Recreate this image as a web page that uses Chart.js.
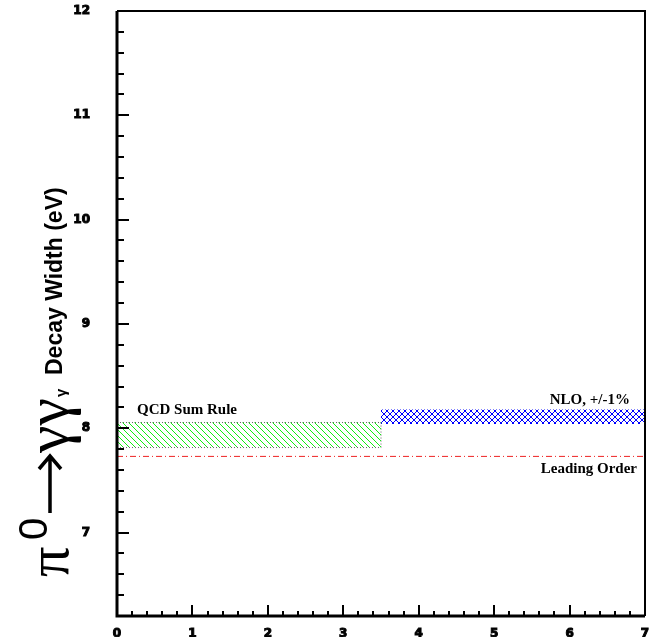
<!DOCTYPE html>
<html>
<head>
<meta charset="utf-8">
<script src="https://cdn.jsdelivr.net/npm/chart.js@4/dist/chart.umd.min.js"></script>
<style>
  body { margin: 0; background: #fff; }
  canvas { display: block; }
</style>
</head>
<body>
<canvas id="widthChart" width="658" height="637"></canvas>
<script>
// values
var segmentX = [0, 3.5, 7];          // QCD band from 0 to 3.5, NLO band from 3.5 to 7
var qcdBand = [7.815, 8.055];        // QCD sum rule (low, high), eV
var nloBand = [8.04, 8.18];          // NLO +/-1% (low, high), eV
var leadingOrder = 7.73;             // leading order, eV
var xTickLabels = [0, 1, 2, 3, 4, 5, 6, 7];
var yTickLabels = [7, 8, 9, 10, 11, 12];

function isMajor(v, list) {
  return list.some(function (t) { return Math.abs(t - v) < 1e-6; });
}

function hatch(color, cross, s) {
  var c = document.createElement("canvas");
  c.width = s; c.height = s;
  var g = c.getContext("2d");
  g.strokeStyle = color;
  g.lineWidth = 1;
  g.beginPath();
  for (var k = -1; k <= 1; k++) {
    g.moveTo(k * s, 0); g.lineTo(k * s + s, s);
    if (cross) { g.moveTo(k * s + s, 0); g.lineTo(k * s, s); }
  }
  g.stroke();
  return g.createPattern(c, "repeat");
}

// fixed box sizes, no extra padding for end labels
function fixBox(w, h) {
  return function (s) {
    if (w) s.width = w;
    if (h) s.height = h;
    s.paddingTop = 0; s.paddingBottom = 0; s.paddingLeft = 0; s.paddingRight = 0;
  };
}

var ctx = document.getElementById("widthChart").getContext("2d");
var greenHatch = hatch("#11ee11", false, 6);
var blueHatch = hatch("#0000ff", true, 6);

var dotted = { borderColor: "#666", borderWidth: 1, borderDash: [1, 2] };
var tickFont = { family: "'DejaVu Sans', sans-serif", size: 12, weight: "bold" };

// frame, inward ticks, labels and the y title
var decorations = {
  id: "decorations",
  afterDraw: function (chart) {
    var c = chart.ctx, a = chart.chartArea;
    var xs = chart.scales.x, ys = chart.scales.y;
    c.save();
    c.strokeStyle = "#000";
    c.lineWidth = 2;
    c.beginPath();
    ys.ticks.forEach(function (t) {
      var y = Math.round(ys.getPixelForValue(t.value));
      var len = isMajor(t.value, yTickLabels) ? 12 : 7;
      c.moveTo(a.left, y); c.lineTo(a.left + len, y);
    });
    xs.ticks.forEach(function (t) {
      var x = Math.round(xs.getPixelForValue(t.value));
      var len = isMajor(t.value, xTickLabels) ? 11 : 5;
      c.moveTo(x, a.bottom); c.lineTo(x, a.bottom - len);
    });
    c.stroke();

    c.lineWidth = 2;
    c.beginPath();
    c.moveTo(a.left, a.top); c.lineTo(a.right, a.top); c.lineTo(a.right, a.bottom);
    c.stroke();
    c.lineWidth = 3;
    c.beginPath();
    c.moveTo(a.left, a.top); c.lineTo(a.left, a.bottom); c.lineTo(a.right, a.bottom);
    c.stroke();

    // annotations
    c.fillStyle = "#000";
    c.font = "bold 15px 'Liberation Serif', serif";
    c.textBaseline = "alphabetic";
    c.textAlign = "left";
    c.fillText("QCD Sum Rule", 137, 414);
    c.textAlign = "right";
    c.fillText("NLO, +/-1%", 630, 404);
    c.fillText("Leading Order", 637, 473);

    // y title, rotated: u runs up the page, v runs right
    c.translate(0, 637);
    c.rotate(-Math.PI / 2);
    c.textAlign = "left";
    c.font = "60px 'Liberation Serif', serif";
    c.fillText("\u03c0", 60, 68);
    c.font = "40px 'Liberation Sans', sans-serif";
    c.fillText("0", 97, 47);
    c.lineWidth = 3.5;
    c.beginPath();
    c.moveTo(124, 50); c.lineTo(180, 50);
    c.moveTo(168, 39); c.lineTo(181, 50); c.lineTo(168, 61);
    c.stroke();
    c.font = "62px 'Liberation Serif', serif";
    c.fillText("\u03b3\u03b3", 184, 68);
    c.font = "bold 15px 'Liberation Sans', sans-serif";
    c.fillText("\u03b3", 240, 66);
    c.font = "bold 23px 'Liberation Sans', sans-serif";
    c.fillText("Decay Width (eV)", 262, 62);
    c.restore();
  }
};

function pts(x0, x1, y) { return [{ x: x0, y: y }, { x: x1, y: y }]; }

new Chart(ctx, {
  type: "line",
  data: {
    datasets: [
      Object.assign({ data: pts(segmentX[0], segmentX[1], qcdBand[0]), fill: false }, dotted),
      Object.assign({ data: pts(segmentX[0], segmentX[1], qcdBand[1]), fill: "-1", backgroundColor: greenHatch }, dotted),
      Object.assign({ data: [{ x: segmentX[1], y: qcdBand[0] }, { x: segmentX[1], y: qcdBand[1] }], fill: false }, dotted),
      { data: pts(segmentX[1], segmentX[2], nloBand[0]), borderWidth: 0, borderColor: "rgba(0,0,0,0)", fill: false },
      { data: pts(segmentX[1], segmentX[2], nloBand[1]), borderWidth: 0, borderColor: "rgba(0,0,0,0)", fill: "-1", backgroundColor: blueHatch },
      { data: pts(segmentX[0], segmentX[2], leadingOrder), borderColor: "#ee2222", borderWidth: 1, borderDash: [6, 3, 1, 3], fill: false }
    ]
  },
  options: {
    responsive: false,
    devicePixelRatio: 1,
    animation: false,
    elements: { point: { radius: 0 }, line: { tension: 0 } },
    layout: { autoPadding: false, padding: { left: 0, top: 11, right: 13, bottom: 0 } },
    plugins: { legend: { display: false }, tooltip: { enabled: false } },
    scales: {
      x: {
        type: "linear",
        min: 0, max: 7,
        afterFit: fixBox(0, 21),
        grid: { display: false },
        border: { display: false },
        ticks: {
          stepSize: 0.2, autoSkip: false, maxRotation: 0, padding: 3,
          color: "#000", font: tickFont, textStrokeColor: "#000", textStrokeWidth: 1,
          callback: function (v) { return isMajor(v, xTickLabels) ? String(Math.round(v)) : ""; }
        }
      },
      y: {
        type: "linear",
        min: 6.2, max: 12,
        afterFit: fixBox(117, 0),
        grid: { display: false },
        border: { display: false },
        ticks: {
          stepSize: 0.2, autoSkip: false, padding: 19,
          color: "#000", font: tickFont, textStrokeColor: "#000", textStrokeWidth: 1,
          callback: function (v) { return isMajor(v, yTickLabels) ? String(Math.round(v)) : ""; }
        }
      }
    }
  },
  plugins: [decorations]
});
</script>
</body>
</html>
